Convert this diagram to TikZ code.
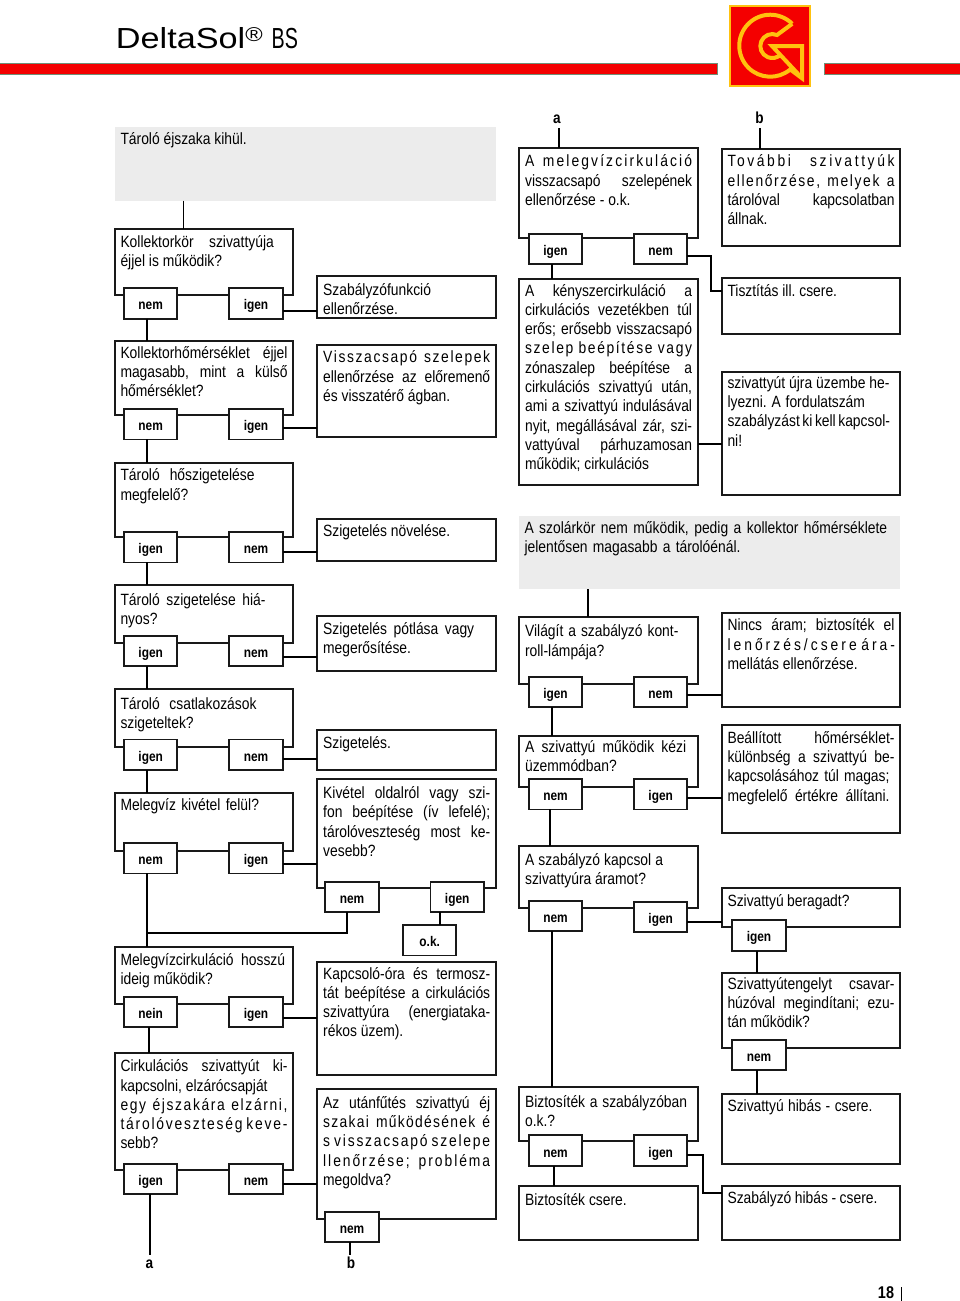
\documentclass[tikz,border=0pt]{standalone}
\usepackage{fontspec}
\setmainfont{Liberation Sans}[FakeStretch=0.85]
\newfontfamily\headwide{Liberation Sans}[FakeStretch=1.18]
\newfontfamily\headcond{Liberation Sans}[FakeStretch=0.68]
\usepackage{tikz}
\usetikzlibrary{
  positioning
}
\definecolor{barred}{HTML}{F40000}
\definecolor{baredge}{HTML}{6F8F78}
\definecolor{logoyellow}{HTML}{FFC20E}
\definecolor{panelgray}{HTML}{ECECEC}
\frenchspacing
\newcommand{\jline}[1]{\makebox[\linewidth][s]{#1}\\}
\newcommand{\sline}[2]{\makebox[\linewidth][s]{\addfontfeatures{LetterSpace=#1}#2}\\}
\newcommand{\wline}[2]{\makebox[#1pt][s]{#2}\\}

\begin{document}
\begin{tikzpicture}[
      x=1pt,y=-1pt,
      line width=1.9pt,
      qbox/.style 2 args={
         rectangle,
         draw=black!90,
         fill=white,
         anchor=north west,
         outer sep=0pt,
         inner xsep=5.8pt,
         inner ysep=0pt,
         text width=167pt,
         align=left,
         execute at begin node={\spaceskip=0pt\xspaceskip=0pt},
         font=\fontsize{16.3}{19.3}\selectfont,
         /utils/exec={\pgfmathsetlengthmacro\qdepth{#1-#2}},
         text height=#2pt,
         text depth=\qdepth
      },
      gbox/.style 2 args={
         qbox={#1}{#2},
         draw=none,
         fill=panelgray,
         text width=369.8pt
      },
      answer/.style={
         rectangle,
         draw=black!90,
         fill=white,
         outer sep=0pt,
         inner sep=0pt,
         minimum width=53.4pt,
         minimum height=30.5pt,
         text height=13pt,
         text depth=0pt,
         font=\fontsize{14}{14}\selectfont\bfseries
      },
      tag/.style={
         anchor=base,
         outer sep=0pt,
         inner xsep=0pt,
         inner ysep=2.3pt,
         text height=11.5pt,
         text depth=2.7pt,
         font=\fontsize{16}{16}\selectfont\bfseries
      },
      point/.style={coordinate},
      redbar/.style={fill=barred,draw=baredge,line width=0.7pt},
      logoline/.style={draw=logoyellow,line width=4pt,line join=miter}
    ]
    \useasboundingbox (0,0) rectangle (960,1301);
    % head
    \node (n01) [anchor=base west,inner sep=0pt,font=\fontsize{29}{29}\selectfont] at (115,48.7) {\headwide DeltaSol\raisebox{7.5pt}{\fontsize{20}{20}\selectfont ®}\hspace{9pt}\headcond BS};
    \path[redbar] (-1,63.5) rectangle (717.5,74);
    \path[redbar] (824,63.5) rectangle (961,74);
    \path[fill=barred,draw=logoyellow,line width=2.4pt] (730,6) rectangle (810,86);
    \path[logoline] (792.2,23.8) arc (45:310:31pt) -- (802,78.3) -- (802,46) -- (772,46) -- (800,76);
    \path[logoline] (792.2,23.8) -- (777,35) arc (67:315:12pt);

    \node (n11) [gbox={73.4}{16.7}] at (114.7,127.3) {Tároló éjszaka kihül.};
    \node (n12) [qbox={66.3}{18.6}] at (114.7,228.7) {\wline{153.3}{Kollektorkör szivattyúja}éjjel is működik?};
    \node (n12a) [answer] at (150.7,303.4) {nem};
    \node (n12b) [answer] at (256,303.4) {igen};
    \node (n13) [qbox={73.4}{17}] at (114.7,341.3) {\jline{Kollektorhőmérséklet éjjel}\jline{magasabb, mint a külső}hőmérséklet?};
    \node (n13a) [answer] at (150.7,424.2) {nem};
    \node (n13b) [answer] at (256,424.2) {igen};
    \node (n14) [qbox={73.7}{17.4}] at (114.7,463.3) {\wline{134}{Tároló hőszigetelése}megfelelő?};
    \node (n14a) [answer] at (150.7,547.2) {igen};
    \node (n14b) [answer] at (256,547.2) {nem};
    \node (n15) [qbox={57.7}{19.7}] at (114.7,585.3) {\wline{145}{Tároló szigetelése hiá-}nyos?};
    \node (n15a) [answer] at (150.7,651) {igen};
    \node (n15b) [answer] at (256,651) {nem};
    \node (n16) [qbox={58}{20}] at (114.7,689.3) {\wline{136}{Tároló csatlakozások}szigeteltek?};
    \node (n16a) [answer] at (150.7,754.7) {igen};
    \node (n16b) [answer] at (256,754.7) {nem};
    \node (n17) [qbox={58}{17.7}] at (114.7,793) {\wline{138.5}{Melegvíz kivétel felül?}};
    \node (n17a) [answer] at (150.7,858.2) {nem};
    \node (n17b) [answer] at (256,858.2) {igen};
    \node (n18) [qbox={57.6}{18.3}] at (114.7,946.7) {\wline{164.6}{Melegvízcirkuláció hosszú}ideig működik?};
    \node (n18a) [answer] at (150.7,1012) {nein};
    \node (n18b) [answer] at (256,1012) {igen};
    \node (n19) [qbox={116.7}{18.4}] at (114.7,1053.3) {\jline{Cirkulációs szivattyút ki-}kapcsolni, elzárócsapját\\\sline{10}{egy éjszakára elzárni,}\sline{11}{tárolóveszteség keve-}sebb?};
    \node (n19a) [answer] at (150.7,1179) {igen};
    \node (n19b) [answer] at (256,1179) {nem};

    \node (n21) [qbox={42.3}{19}] at (317.4,276) {Szabályzófunkció\\ellenőrzése.};
    \node (n22) [qbox={92}{17.4}] at (317.4,345.3) {\sline{10}{Visszacsapó szelepek}\jline{ellenőrzése az előremenő}és visszatérő ágban.};
    \node (n23) [qbox={42}{17.7}] at (317.4,519) {Szigetelés növelése.};
    \node (n24) [qbox={54.7}{18.3}] at (317.4,616) {\wline{151}{Szigetelés pótlása vagy}megerősítése.};
    \node (n25) [qbox={39.7}{18}] at (317.4,730.3) {Szigetelés.};
    \node (n26) [qbox={109}{19.7}] at (317.4,778.7) {\jline{Kivétel oldalról vagy szi-}\jline{fon beépítése (ív lefelé);}\jline{tárolóveszteség most ke-}vesebb?};
    \node (n26a) [answer] at (352,896.8) {nem};
    \node (n26b) [answer] at (457.2,896.8) {igen};
    \node (n27) [answer] at (429.7,940.2) {o.k.};
    \node (n28) [qbox={113.6}{17.3}] at (317.4,961.7) {\jline{Kapcsoló-óra és termosz-}\jline{tát beépítése a cirkulációs}\jline{szivattyúra (energiataka-}rékos üzem).};
    \node (n29) [qbox={129.7}{19}] at (317.4,1089.3) {\jline{Az utánfűtés szivattyú éj}\sline{8}{szakai működésének é}\sline{11}{s visszacsapó szelepe}\sline{12}{llenőrzése; probléma}megoldva?};
    \node (n29a) [answer] at (352,1226.8) {nem};

    \node (n31) [qbox={90.3}{18.7}] at (519.3,148) {\sline{13}{A melegvízcirkuláció}\jline{visszacsapó szelepének}ellenőrzése - o.k.};
    \node (n31a) [answer] at (555.5,249) {igen};
    \node (n31b) [answer] at (660.7,249) {nem};
    \node (n32) [qbox={205.7}{16.7}] at (519.3,279.3) {\jline{A kényszercirkuláció a}\jline{cirkulációs vezetékben túl}\jline{erős; erősebb visszacsapó}\sline{10}{szelep beépítése vagy}\jline{zónaszalep beépítése a}\jline{cirkulációs szivattyú után,}\jline{ami a szivattyú indulásával}\jline{nyit, megállásával zár, szi-}\jline{vattyúval párhuzamosan}működik; cirkulációs};
    \node (n33) [gbox={73.3}{17.3}] at (518.7,516) {\wline{362.7}{A szolárkör nem működik, pedig a kollektor hőmérséklete}\wline{216}{jelentősen magasabb a tárolóénál.}};
    \node (n34) [qbox={67.3}{20}] at (519.3,616.7) {\wline{153.3}{Világít a szabályzó kont-}roll-lámpája?};
    \node (n34a) [answer] at (555.5,692) {igen};
    \node (n34b) [answer] at (660.7,692) {nem};
    \node (n35) [qbox={50.7}{16}] at (519.3,736) {\wline{161}{A szivattyú működik kézi}üzemmódban?};
    \node (n35a) [answer] at (555.5,794.2) {nem};
    \node (n35b) [answer] at (660.7,794.2) {igen};
    \node (n36) [qbox={62}{19.3}] at (519.3,845.7) {\wline{138}{A szabályzó kapcsol a}szivattyúra áramot?};
    \node (n36a) [answer] at (555.5,915.8) {nem};
    \node (n36b) [answer] at (660.7,917) {igen};
    \node (n37) [qbox={54}{20}] at (519.3,1087.3) {\wline{162}{Biztosíték a szabályzóban}o.k.?};
    \node (n37a) [answer] at (555.5,1150.5) {nem};
    \node (n37b) [answer] at (660.7,1150.5) {igen};
    \node (n38) [qbox={53.7}{19}] at (519.3,1186) {Biztosíték csere.};

    \node (n41) [qbox={97.3}{18}] at (721.7,148.7) {\sline{16}{További szivattyúk}\sline{10}{ellenőrzése, melyek a}\jline{tárolóval kapcsolatban}állnak.};
    \node (n42) [qbox={56}{17.7}] at (721.7,278.3) {Tisztítás ill. csere.};
    \node (n43) [qbox={122.7}{16}] at (721.7,372.3) {\wline{162}{szivattyút újra üzembe he-}\wline{137.5}{lyezni. A fordulatszám}\wline{162}{szabályzást ki kell kapcsol-}ni!};
    \node (n44) [qbox={94.6}{18}] at (721.7,612.7) {\jline{Nincs áram; biztosíték el}\sline{18.5}{lenőrzés/csere ára-}mellátás ellenőrzése.};
    \node (n45) [qbox={107.7}{18.3}] at (721.7,725) {\jline{Beállított hőmérséklet-}\jline{különbség a szivattyú be-}\wline{162}{kapcsolásához túl magas;}\wline{162}{megfelelő értékre állítani.}};
    \node (n46) [qbox={38.7}{18}] at (721.7,888) {\wline{122}{Szivattyú beragadt?}};
    \node (n46a) [answer] at (759,935.3) {igen};
    \node (n47) [qbox={74.7}{16}] at (721.7,973.3) {\jline{Szivattyútengelyt csavar-}\jline{húzóval megindítani; ezu-}tán működik?};
    \node (n47a) [answer] at (759,1054.8) {nem};
    \node (n48) [qbox={70}{17.7}] at (721.7,1094) {\wline{145}{Szivattyú hibás - csere.}};
    \node (n49) [qbox={53.7}{17.3}] at (721.7,1186) {\wline{150}{Szabályzó hibás - csere.}};

    \node (la1) [tag] at (557,123) {a};
    \node (lb1) [tag] at (759.5,123) {b};
    \node (la2) [tag] at (149.3,1268.3) {a};
    \node (lb2) [tag] at (351,1268.3) {b};
    \node (n50) [anchor=base,inner sep=0pt,font=\fontsize{17}{17}\selectfont\bfseries] at (886,1298) {18};

    \node (p1) [point] at (146.7,932.7) {};
    \node (p2) [point] at (711.3,290.7) {};
    \node (p3) [point] at (702.7,1193.3) {};

    \draw (183.5,0 |- n11.south) -- (183.5,0 |- n12.north);
    \draw (146.7,0 |- n12a.south) -- (146.7,0 |- n13.north);
    \draw (146.7,0 |- n13a.south) -- (146.7,0 |- n14.north);
    \draw (146.7,0 |- n14a.south) -- (146.7,0 |- n15.north);
    \draw (146.7,0 |- n15a.south) -- (146.7,0 |- n16.north);
    \draw (146.7,0 |- n16a.south) -- (146.7,0 |- n17.north);
    \draw (146.7,0 |- n17a.south) -- (146.7,0 |- n18.north);
    \draw (149.3,0 |- n18a.south) -- (149.3,0 |- n19.north);
    \draw (150.3,0 |- n19a.south) -- (150.3,0 |- la2.north);
    \draw (n12b.east |- 0,311.3) -- (n21.west |- 0,311.3);
    \draw (n13b.east |- 0,428) -- (n22.west |- 0,428);
    \draw (n14b.east |- 0,551.7) -- (n23.west |- 0,551.7);
    \draw (n15b.east |- 0,656.7) -- (n24.west |- 0,656.7);
    \draw (n16b.east |- 0,759) -- (n25.west |- 0,759);
    \draw (n17b.east |- 0,864.3) -- (n26.west |- 0,864.3);
    \draw (n18b.east |- 0,1017.7) -- (n28.west |- 0,1017.7);
    \draw (n19b.east |- 0,1184.3) -- (n29.west |- 0,1184.3);
    \draw (346.7,0 |- n26a.south) |- (p1);
    \draw (439.7,0 |- n26b.south) -- (439.7,0 |- n27.north);
    \draw (350,0 |- n29a.south) -- (350,0 |- lb2.north);

    \draw (558.7,0 |- la1.south) -- (558.7,0 |- n31.north);
    \draw (759.7,0 |- lb1.south) -- (759.7,0 |- n41.north);
    \draw (551.7,0 |- n31a.south) -- (551.7,0 |- n32.north);
    \draw (n31b.east |- 0,256) -| (p2) -- (n42.west |- p2);
    \draw (n32.east |- 0,443.7) -- (n43.west |- 0,443.7);
    \draw (588.3,0 |- n33.south) -- (588.3,0 |- n34.north);
    \draw (n34b.east |- 0,695.3) -- (n44.west |- 0,695.3);
    \draw (551.7,0 |- n34a.south) -- (551.7,0 |- n35.north);
    \draw (n35b.east |- 0,798.3) -- (n45.west |- 0,798.3);
    \draw (550.3,0 |- n35a.south) -- (550.3,0 |- n36.north);
    \draw (n36b.east |- 0,922) -- (n46.west |- 0,922);
    \draw (552.3,0 |- n36a.south) -- (552.3,0 |- n37.north);
    \draw (757.3,0 |- n46a.south) -- (757.3,0 |- n47.north);
    \draw (757.3,0 |- n47a.south) -- (757.3,0 |- n48.north);
    \draw (554,0 |- n37a.south) -- (554,0 |- n38.north);
    \draw (n37b.east |- 0,1155) -| (p3) -- (n49.west |- p3);
    \draw[line width=1.4pt] (901.7,1287) -- (901.7,1300.7);
\end{tikzpicture}
\end{document}
